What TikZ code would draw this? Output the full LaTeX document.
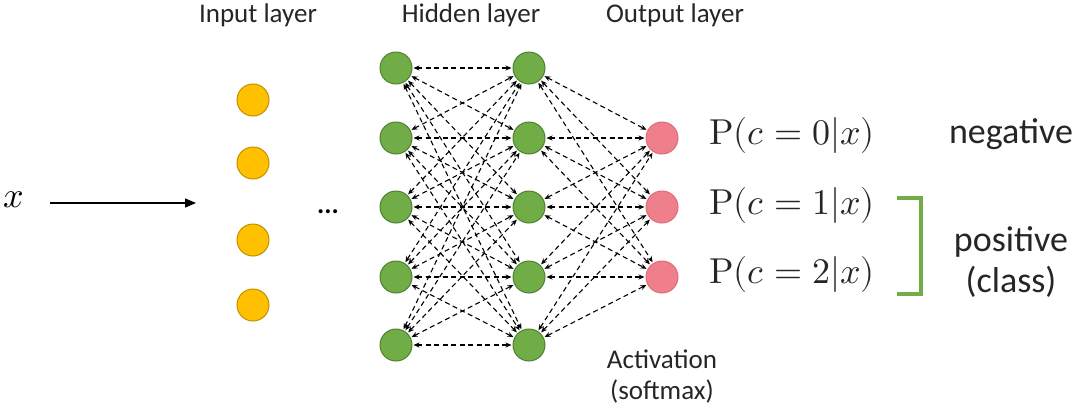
\documentclass[tikz,border=0pt]{standalone}
\usepackage{fontspec}
\usepackage{unicode-math}
\setmainfont{Carlito}
\setmathfont{Latin Modern Math}
\usetikzlibrary{arrows.meta}
\definecolor{ngreen}{HTML}{70AD47}
\definecolor{ngreenD}{HTML}{507E32}
\definecolor{norange}{HTML}{FFC000}
\definecolor{norangeD}{HTML}{C09000}
\definecolor{npink}{HTML}{EF7F8B}
\definecolor{npinkD}{HTML}{E06A78}
\tikzset{
  neuron/.style={circle, minimum size=32pt, inner sep=0pt, line width=1pt},
  gn/.style={neuron, fill=ngreen, draw=ngreenD},
  on/.style={neuron, fill=norange, draw=norangeD},
  pn/.style={neuron, fill=npink, draw=npinkD},
  conn/.style={dashed, dash pattern=on 5pt off 3.5pt, line width=1.1pt, black,
    {Stealth[length=6pt,width=5pt]}-{Stealth[length=6pt,width=5pt]}, shorten <=1pt, shorten >=1pt},
  lab/.style={font=\fontsize{27}{30}\selectfont, text=black!85, inner sep=0pt},
  big/.style={font=\fontsize{36}{40}\selectfont, text=black!85, inner sep=0pt},
  prob/.style={font=\fontsize{36}{40}\selectfont, text=black!85, inner sep=0pt, anchor=west},
}
\begin{document}
\begin{tikzpicture}[x=1pt,y=-1pt]
\useasboundingbox (0,0) rectangle (1080,413);
% titles
\node[lab] (tin) at (258,15) {Input layer};
\node[lab] (thid) at (471,15) {Hidden layer};
\node[lab] (tout) at (675,15) {Output layer};
% input
\node[font=\fontsize{36}{38}\selectfont, inner sep=0pt] (x) at (14,200) {$x$};
\coordinate (xs) at (50,203);
\coordinate (xe) at (196,203);
\draw[line width=1.3pt, -{Triangle[length=11pt,width=9pt]}] (xs) -- (xe);
\foreach \i/\y in {1/100,2/163,3/240,4/305}{
  \node[on] (i\i) at (253,\y) {};
}
\node[font=\fontsize{27}{28}\selectfont, inner sep=0pt, anchor=base] (dots) at (328,213) {\textbf{...}};
% hidden layers
\foreach \i/\y in {1/68,2/138,3/207,4/277,5/345}{
  \node[gn] (h\i) at (396,\y) {};
  \node[gn] (g\i) at (529,\y) {};
}
% output
\foreach \i/\y in {1/138,2/207,3/277}{
  \node[pn] (o\i) at (662,\y) {};
}
% connectors
\foreach \a in {1,...,5}{
  \foreach \b in {1,...,5}{
    \draw[conn] (h\a) -- (g\b);
  }
  \foreach \b in {1,2,3}{
    \draw[conn] (g\a) -- (o\b);
  }
}
% probabilities
\node[prob] (p0) at (709,135) {$\symup{P}(c=0|x)$};
\node[prob] (p1) at (709,205) {$\symup{P}(c=1|x)$};
\node[prob] (p2) at (709,274) {$\symup{P}(c=2|x)$};
% classes
\node[big] (neg) at (1011,134) {negative};
\node[big] (pos) at (1011,242) {positive};
\node[big] (cls) at (1011,282) {(class)};
\coordinate (b1) at (897,198);
\coordinate (b2) at (921,198);
\coordinate (b3) at (921,294);
\coordinate (b4) at (897,294);
\draw[ngreen, line width=3.5pt, line join=miter] (b1) -- (b2) -- (b3) -- (b4);
% activation
\node[lab] (act) at (662,359) {Activation};
\node[lab] (soft) at (662,391) {(softmax)};
\end{tikzpicture}
\end{document}
